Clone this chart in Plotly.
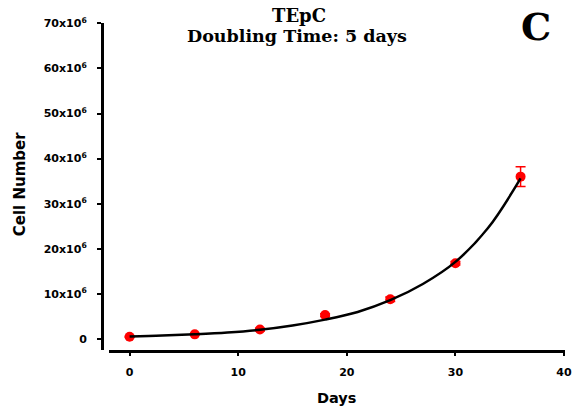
import plotly.graph_objects as go

# Data
days = [0, 6, 12, 18, 24, 30, 36]
cells = [0.5e6, 1.03e6, 2.1e6, 5.3e6, 8.8e6, 16.8e6, 36.0e6]
cells_err = [0.1e6, 0.1e6, 0.3e6, 0.3e6, 0.5e6, 0.4e6, 2.2e6]

fit_days = [0, 3, 6, 9, 12, 15, 18, 21, 24, 27, 30, 33, 36]
fit_cells = [0.55e6, 0.75e6, 1.05e6, 1.45e6, 2.05e6, 3.0e6, 4.3e6, 6.0e6,
             8.6e6, 12.2e6, 17.1e6, 24.6e6, 35.6e6]

y_tickvals = [0, 10e6, 20e6, 30e6, 40e6, 50e6, 60e6, 70e6]
y_ticktext = ["0", "10x10<sup>6</sup>", "20x10<sup>6</sup>", "30x10<sup>6</sup>",
              "40x10<sup>6</sup>", "50x10<sup>6</sup>", "60x10<sup>6</sup>",
              "70x10<sup>6</sup>"]
x_tickvals = [0, 10, 20, 30, 40]

title_text = "TEpC"
subtitle_text = "Doubling Time: 5 days"
panel_letter = "C"
x_title = "Days"
y_title = "Cell Number"

sans = "DejaVu Sans, Liberation Sans, sans-serif"
serif = "DejaVu Serif, Liberation Serif, serif"

fig = go.Figure()
fig.add_trace(go.Scatter(
    x=days, y=cells, mode="markers",
    marker=dict(color="#ff0000", size=10, line=dict(width=0)),
    error_y=dict(type="data", array=cells_err, visible=True,
                 color="#ff0000", thickness=1.5, width=5),
    showlegend=False, cliponaxis=False))
fig.add_trace(go.Scatter(
    x=fit_days, y=fit_cells, mode="lines",
    line=dict(color="black", width=2.5, shape="spline"),
    showlegend=False, cliponaxis=False))

fig.update_layout(
    width=580, height=416,
    margin=dict(l=102, r=8, t=23, b=66),
    paper_bgcolor="white", plot_bgcolor="white",
    xaxis=dict(
        domain=[0.016, 1], range=[-1.86, 40.09],
        tickvals=x_tickvals, ticks="outside", ticklen=3, tickwidth=1.5,
        tickcolor="black", showline=True, linecolor="black", linewidth=3,
        showgrid=False, zeroline=False,
        tickfont=dict(family=sans, size=11, color="black", weight="bold"),
        ticklabelstandoff=7,
    ),
    yaxis=dict(
        domain=[0, 1], range=[-2.44e6, 70.07e6], anchor="free", position=0,
        tickvals=y_tickvals, ticktext=y_ticktext, ticks="outside", ticklen=4,
        tickwidth=1.5, tickcolor="black", showline=True, linecolor="black",
        linewidth=3, showgrid=False, zeroline=False,
        tickfont=dict(family=sans, size=11, color="black", weight="bold"),
        ticklabelstandoff=8,
    ),
    annotations=[
        dict(text="<b>%s</b>" % title_text, x=0.425, y=1.024, xref="paper", yref="paper",
             showarrow=False, font=dict(family=serif, size=18, color="black"),
             xanchor="center", yanchor="middle"),
        dict(text="<b>%s</b>" % subtitle_text, x=0.421, y=0.96, xref="paper", yref="paper",
             showarrow=False, font=dict(family=serif, size=17.5, color="black"),
             xanchor="center", yanchor="middle"),
        dict(text="<b>%s</b>" % panel_letter, x=0.937, y=0.988, xref="paper", yref="paper",
             showarrow=False, font=dict(family=serif, size=38, color="black"),
             xanchor="center", yanchor="middle"),
        dict(text="<b>%s</b>" % x_title, x=0.506, y=-0.147, xref="paper", yref="paper",
             showarrow=False, font=dict(family=sans, size=14.5, color="black"),
             xanchor="center", yanchor="middle"),
        dict(text="<b>%s</b>" % y_title, x=-0.1777, y=0.506, xref="paper", yref="paper",
             showarrow=False, textangle=-90, font=dict(family=sans, size=15, color="black"),
             xanchor="center", yanchor="middle"),
    ],
)

fig.write_html("out.html")
